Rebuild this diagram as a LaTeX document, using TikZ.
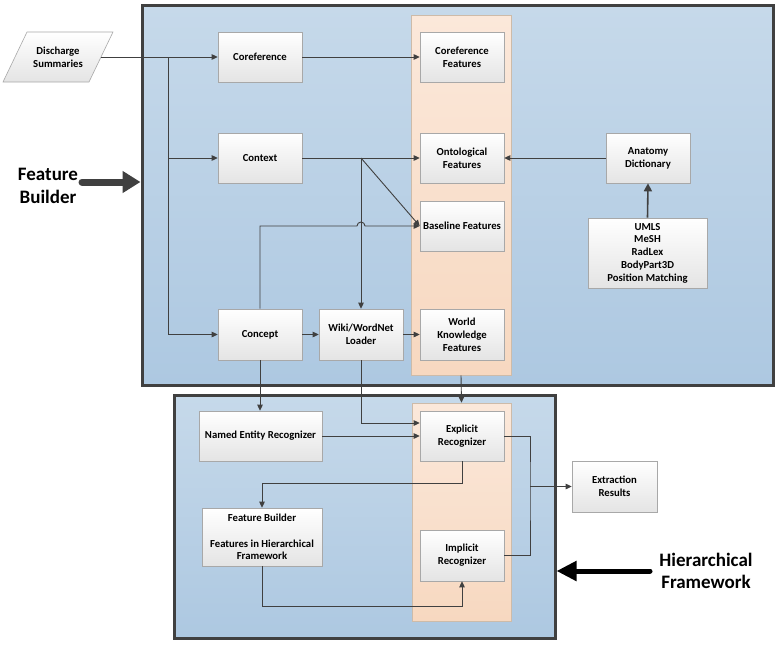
\documentclass[tikz,border=0pt]{standalone}
\usepackage{fontspec}
\setmainfont{Carlito}
\usetikzlibrary{arrows.meta,calc}
\definecolor{ln}{HTML}{404040}
\definecolor{boxline}{HTML}{A8A8A8}
\definecolor{boxbot}{HTML}{E4E4E4}
\definecolor{bluetop}{HTML}{C6D9EA}
\definecolor{bluebot}{HTML}{ADC8E1}
\definecolor{ortop}{HTML}{FBE8DA}
\definecolor{orbot}{HTML}{F7D8C0}
\definecolor{orline}{HTML}{CDBBA9}
\begin{document}
\begin{tikzpicture}[x=1pt,y=-1pt,
  boxfill/.style={draw=boxline, top color=white, bottom color=boxbot, line width=0.6pt},
  boxtext/.style={font=\bfseries\fontsize{10.7}{12.8}\selectfont, align=center, inner sep=1pt},
  box/.style={boxfill, boxtext, minimum width=84pt, minimum height=50pt},
  bigbox/.style={draw=ln, line width=3pt, top color=bluetop, bottom color=bluebot, inner sep=0pt},
  column/.style={draw=orline, line width=0.6pt, top color=ortop, bottom color=orbot, inner sep=0pt},
  arr/.style={draw=ln, line width=0.9pt, -{Triangle[length=6pt,width=5.5pt]}},
  conn/.style={draw=ln, line width=0.9pt},
  biglabel/.style={font=\bfseries\fontsize{19}{22.5}\selectfont, align=center, inner sep=0pt}]
\useasboundingbox (0,0) rectangle (781,645);

% containers
\node[bigbox, minimum width=631pt, minimum height=380pt] (fb) at (457.5,195) {};
\node[column, minimum width=100pt, minimum height=360pt] (col1) at (461,195) {};
\node[bigbox, minimum width=381pt, minimum height=243pt] (hf) at (364.5,516.5) {};
\node[column, minimum width=99pt, minimum height=218pt] (col2) at (461.5,512) {};

% input (parallelogram)
\coordinate (dsc) at (58,57);
\path[boxfill] ($(dsc)+(-31,-25)$) -- ($(dsc)+(55,-25)$) -- ($(dsc)+(31,25)$) -- ($(dsc)+(-55,25)$) -- cycle;
\node[boxtext, minimum width=86pt, minimum height=50pt] (ds) at (dsc) {Discharge\\Summaries};

% feature builder nodes
\node[box] (coref) at (260,57) {Coreference};
\node[box] (context) at (260,158) {Context};
\node[box, minimum height=51pt] (concept) at (260,334.5) {Concept};
\node[box, minimum height=51pt] (wiki) at (361,334.5) {Wiki/WordNet\\Loader};
\node[box] (coreff) at (462,57) {Coreference\\Features};
\node[box] (ontof) at (462,158) {Ontological\\Features};
\node[box] (basef) at (462,226) {Baseline Features};
\node[box, minimum height=51pt] (worldf) at (462,334.5) {World\\Knowledge\\Features};
\node[box] (anat) at (648,158) {Anatomy\\Dictionary};
\node[box, minimum width=119pt, minimum height=70pt] (umls) at (647.5,253) {UMLS\\MeSH\\RadLex\\BodyPart3D\\Position Matching};

% hierarchical framework nodes
\node[box, minimum width=123pt] (ner) at (260.5,436) {Named Entity Recognizer};
\node[box] (explicit) at (462,436) {Explicit\\Recognizer};
\node[box, minimum width=120pt, minimum height=58pt] (fbuild) at (262,537) {Feature Builder\\[12.8pt]Features in Hierarchical\\Framework};
\node[box, minimum height=51pt] (implicit) at (462,555.5) {Implicit\\Recognizer};
\node[box, minimum width=85pt, minimum height=51pt] (extract) at (614.5,486.5) {Extraction\\Results};

% labels
\node[biglabel] (fbl) at (48,186) {Feature\\Builder};
\node[biglabel] (hfl) at (706,571) {Hierarchical\\Framework};
\coordinate (fbaS) at (82,182);
\coordinate (hfaS) at (650,571);
\draw[draw=ln, line width=7pt, line cap=round, -{Triangle[length=18pt,width=21pt]}] (fbaS) -- (fbaS -| fb.west);
\draw[draw=black, line width=5pt, line cap=round, -{Triangle[length=20pt,width=19pt]}] (hfaS) -- (hfaS -| hf.east);

% connectors
\coordinate (br) at (168,57);
\draw[arr] (ds.east) -- (coref.west);
\draw[conn] (br) -- (br |- concept.west);
\draw[arr] (br |- context.west) -- (context.west);
\draw[arr] (br |- concept.west) -- (concept.west);
\draw[arr] (coref.east) -- (coreff.west);
\draw[arr] (context.east) -- (ontof.west);
\coordinate (cx) at (context.east -| wiki.north);
\draw[arr] (cx) -- (wiki.north);
\draw[arr] (cx) -- (basef.west);
\coordinate (hop) at (wiki.north |- basef.west);
\draw[arr] (concept.north) -- (concept.north |- basef.west) -- ([xshift=-4pt]hop)
  arc[start angle=180, end angle=0, radius=4pt] -- (basef.west);
\draw[arr] (concept.east) -- (wiki.west);
\draw[arr] (wiki.east) -- (worldf.west);
\draw[arr] (anat.west) -- (ontof.east);
\draw[draw=ln, line width=1.6pt, -{Triangle[length=8pt,width=8pt]}] (umls.north) -- (anat.south);

\draw[arr] (concept.south) -- (concept.south |- ner.north);
\draw[arr] (wiki.south) |- ([yshift=13pt]explicit.west);
\draw[arr] (col1.south) -- (col2.north);
\draw[arr] (ner.east) -- (explicit.west);
\draw[arr] (explicit.south) -- ++(0,22) -| (fbuild.north);
\draw[arr] (fbuild.south) -- ++(0,40) -| (implicit.south);
\coordinate (jn) at (530,486.5);
\draw[conn] (explicit.east) -| (jn) |- (implicit.east);
\draw[arr] (jn) -- (extract.west);
\end{tikzpicture}
\end{document}
